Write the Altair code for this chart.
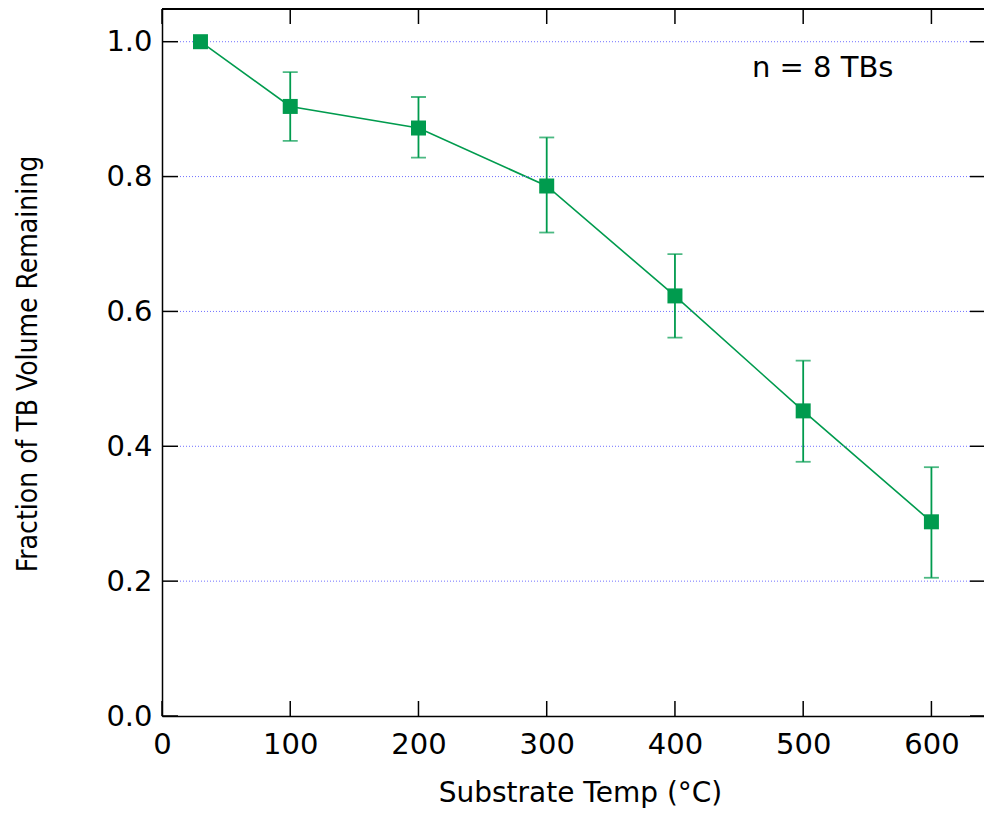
import altair as alt
import pandas as pd

temps = [30, 100, 200, 300, 400, 500, 600]
frac = [1.0, 0.904, 0.872, 0.786, 0.623, 0.4525, 0.288]
err_hi = [None, 0.955, 0.918, 0.858, 0.685, 0.527, 0.369]
err_lo = [None, 0.853, 0.828, 0.717, 0.561, 0.377, 0.205]
x_ticks = [0, 100, 200, 300, 400, 500, 600]
y_ticks = [0.0, 0.2, 0.4, 0.6, 0.8, 1.0]
note_text = ["n = 8 TBs"]
note_x = [460]
note_y = [0.947]

W, H = 822, 707
GREEN = "#009B4E"
FONT = "DejaVu Sans"

df = pd.DataFrame({"temp": temps, "frac": frac, "hi": err_hi, "lo": err_lo})
err = df.dropna()
xt = pd.DataFrame({"v": x_ticks})
yt = pd.DataFrame({"v": y_ticks})
note = pd.DataFrame({"t": note_text, "x": note_x, "y": note_y})

xs = alt.Scale(domain=[0, 641], nice=False, zero=False)
ys = alt.Scale(domain=[0, 1.0485], nice=False, zero=False)

base = alt.Chart(df)

line = base.mark_line(color=GREEN, strokeWidth=1.6).encode(
    x=alt.X("temp:Q", scale=xs, axis=alt.Axis(
        values=x_ticks, title="Substrate Temp (°C)", ticks=False, grid=False,
        domainColor="black", domainWidth=1.5, labelPadding=14, labelFontSize=29,
        labelFlush=False, labelOverlap=False,
        labelFont=FONT, labelColor="black", titleFont=FONT, titleFontSize=28,
        titleFontWeight="normal", titleColor="black", titleBaseline="alphabetic",
        titleY=85, titleX=418, titleAlign="center", format="d")),
    y=alt.Y("frac:Q", scale=ys, axis=alt.Axis(
        values=y_ticks, title="Fraction of TB Volume Remaining", ticks=False, grid=False,
        domainColor="black", domainWidth=1.5, labelPadding=10, labelFontSize=29,
        labelFlush=False, labelOverlap=False,
        labelFont=FONT, labelColor="black", format=".1f",
        titleFont="DejaVu Sans Condensed, Liberation Sans Narrow, DejaVu Sans",
        titleFontSize=28, titleFontWeight="normal", titleColor="black",
        titleX=-134, titleY=H / 2 + 1, titleAngle=270, titleBaseline="middle",
        titleAlign="center")),
)

pts = base.mark_point(shape="square", filled=True, opacity=1, size=225, color=GREEN).encode(
    x=alt.X("temp:Q", scale=xs, axis=None), y=alt.Y("frac:Q", scale=ys, axis=None))

bars = alt.Chart(err).mark_rule(color=GREEN, strokeWidth=1.8).encode(
    x=alt.X("temp:Q", scale=xs, axis=None),
    y=alt.Y("lo:Q", scale=ys, axis=None), y2="hi:Q")
cap_hi = alt.Chart(err).mark_tick(color=GREEN, orient="horizontal", size=15, thickness=1.8).encode(
    x=alt.X("temp:Q", scale=xs, axis=None), y=alt.Y("hi:Q", scale=ys, axis=None))
cap_lo = alt.Chart(err).mark_tick(color=GREEN, orient="horizontal", size=15, thickness=1.8).encode(
    x=alt.X("temp:Q", scale=xs, axis=None), y=alt.Y("lo:Q", scale=ys, axis=None))

grid = alt.Chart(yt[yt.v > 0]).mark_rule(color="#7070ff", strokeWidth=1, strokeDash=[1, 2]).encode(
    y=alt.Y("v:Q", scale=ys, axis=None), x=alt.value(18), x2=alt.value(W - 14))

tick_style = dict(color="black", strokeWidth=1.5)
bot_ticks = alt.Chart(xt).mark_rule(**tick_style).encode(
    x=alt.X("v:Q", scale=xs, axis=None), y=alt.value(H), y2=alt.value(H - 15))
top_ticks = alt.Chart(xt).mark_rule(**tick_style).encode(
    x=alt.X("v:Q", scale=xs, axis=None), y=alt.value(0), y2=alt.value(15))
left_ticks = alt.Chart(yt).mark_rule(**tick_style).encode(
    y=alt.Y("v:Q", scale=ys, axis=None), x=alt.value(0), x2=alt.value(16))
right_ticks = alt.Chart(yt).mark_rule(**tick_style).encode(
    y=alt.Y("v:Q", scale=ys, axis=None), x=alt.value(W - 14), x2=alt.value(W))
top_line = alt.Chart(xt).mark_rule(**tick_style).encode(
    y=alt.value(0), x=alt.value(0), x2=alt.value(W))

txt = alt.Chart(note).mark_text(align="left", baseline="alphabetic", font=FONT,
                                fontSize=29, color="black").encode(
    x=alt.X("x:Q", scale=xs, axis=None), y=alt.Y("y:Q", scale=ys, axis=None), text="t:N")

chart = alt.layer(line, grid, bot_ticks, top_ticks, left_ticks, right_ticks, top_line,
                  bars, cap_hi, cap_lo, pts, txt).resolve_axis(
    x="independent", y="independent").properties(
    width=W, height=H,
    autosize=alt.AutoSizeParams(type="none"),
    padding={"left": 154, "top": 1, "right": 0, "bottom": 93},
).configure_view(stroke=None).configure(background="white")

chart.save("out.html", embed_options={"renderer": "svg", "actions": False})
